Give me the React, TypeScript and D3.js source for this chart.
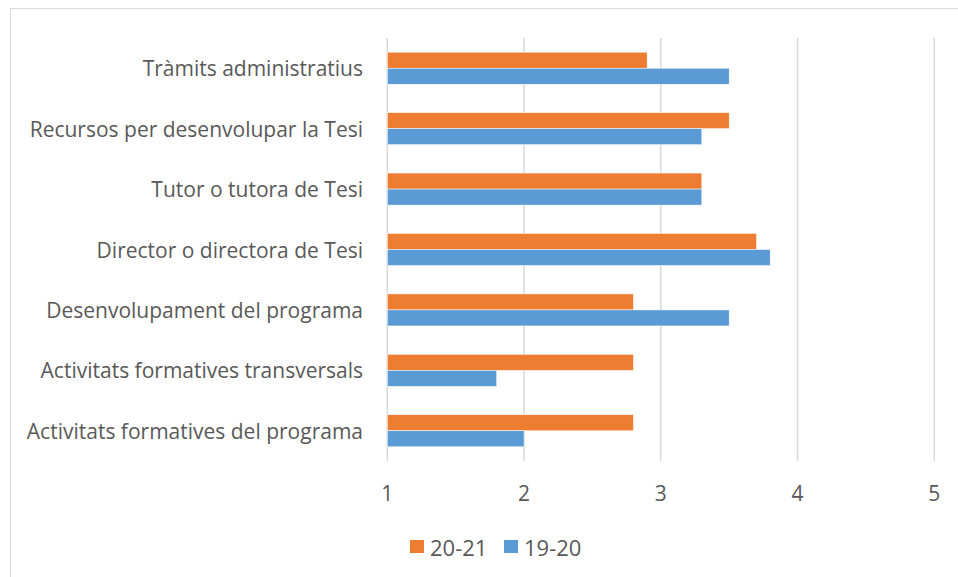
import React from "react";
import * as d3 from "d3";

const categories = [
  "Tràmits administratius",
  "Recursos per desenvolupar la Tesi",
  "Tutor o tutora de Tesi",
  "Director o directora de Tesi",
  "Desenvolupament del programa",
  "Activitats formatives transversals",
  "Activitats formatives del programa",
];
const series2021 = [2.9, 3.5, 3.3, 3.7, 2.8, 2.8, 2.8];
const series1920 = [3.5, 3.3, 3.3, 3.8, 3.5, 1.8, 2.0];
const ticks = [1, 2, 3, 4, 5];
const seriesNames = ["20-21", "19-20"];
const colors = ["#ED7D31", "#5B9BD5"];

const W = 958;
const H = 577;
const FONT = "'Open Sans', 'Noto Sans', sans-serif";

export default function App() {
  const x = d3.scaleLinear().domain([1, 5]).range([387.3, 934.3]);
  const y = d3.scaleBand<string>().domain(categories).range([38, 461]).paddingInner(0.47).paddingOuter(0.235);
  const inner = d3.scaleBand<string>().domain(seriesNames).range([0, y.bandwidth()]);
  const data = [series2021, series1920];

  return (
    <div style={{ position: "absolute", left: 0, top: 0 }}>
      <svg width={W} height={H} style={{ display: "block" }}>
        <rect x={0} y={0} width={W} height={H} fill="#fff" />
        <rect x={10.5} y={8.5} width={W + 20} height={H + 20} fill="none" stroke="#d9d9d9" strokeWidth={1} />
        {ticks.map((t) => (
          <line key={t} x1={x(t)} x2={x(t)} y1={38} y2={461} stroke="#d9d9d9" strokeWidth={1.5} />
        ))}
        {categories.map((c, i) => (
          <g key={c}>
            {data.map((s, k) => (
              <rect
                key={k}
                x={x(1)}
                y={(y(c) as number) + (inner(seriesNames[k]) as number)}
                width={x(s[i]) - x(1)}
                height={inner.bandwidth()}
                fill={colors[k]}
                stroke="#fff"
                strokeWidth={0.5}
              />
            ))}
            <text
              x={363}
              y={(y(c) as number) + y.bandwidth() / 2}
              textAnchor="end"
              dominantBaseline="central"
              fontFamily={FONT}
              fontSize={21}
              fill="#595959"
            >
              {c}
            </text>
          </g>
        ))}
        {ticks.map((t) => (
          <text
            key={t}
            x={x(t)}
            y={493}
            textAnchor="middle"
            dominantBaseline="central"
            fontFamily={FONT}
            fontSize={21}
            fill="#595959"
          >
            {t}
          </text>
        ))}
        {seriesNames.map((n, k) => (
          <g key={n} transform={`translate(${410 + k * 94},540)`}>
            <rect x={0} y={0} width={14} height={13} fill={colors[k]} />
            <text x={20} y={6.5} dominantBaseline="central" fontFamily={FONT} fontSize={22} fill="#595959">
              {n}
            </text>
          </g>
        ))}
      </svg>
    </div>
  );
}
